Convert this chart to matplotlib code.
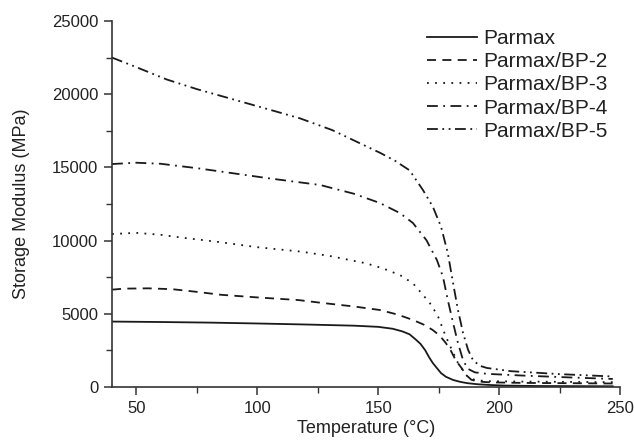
import matplotlib
matplotlib.use('Agg')
import matplotlib.pyplot as plt
from matplotlib.ticker import MultipleLocator

plt.rcParams['font.family'] = ['Liberation Sans', 'DejaVu Sans']

# 數據
t_parmax = [40, 60, 80, 100, 120, 140, 150, 156, 160, 163, 165.5, 167.5, 169.5, 171, 172.6,
            174.5, 176, 178, 181, 184, 187, 191, 196, 202, 215, 247]
e_parmax = [4470, 4440, 4400, 4340, 4270, 4190, 4110, 3980, 3800, 3600, 3250, 2950, 2500, 2050, 1640,
            1250, 950, 700, 480, 350, 260, 190, 140, 100, 70, 50]

t_bp2 = [40, 45, 55, 65, 75, 85, 100, 117, 126, 140, 150.7, 158, 164.4, 169, 172.6, 175.5,
         178, 180, 182, 184.6, 186.5, 188.5, 191, 196, 210, 230, 247]
e_bp2 = [6650, 6720, 6740, 6680, 6500, 6300, 6120, 5940, 5760, 5500, 5260, 4950, 4580, 4250, 3890, 3500,
         3000, 2500, 1850, 1270, 800, 500, 380, 320, 280, 260, 240]

t_bp3 = [40, 50, 60, 70, 83, 100, 118, 130, 145, 152, 159, 164.4, 168.5, 172, 174.8, 178,
         180.5, 183, 185, 187, 190, 195, 210, 230, 247]
e_bp3 = [10450, 10530, 10400, 10180, 9930, 9550, 9250, 8950, 8450, 8100, 7650, 7080, 6300, 5600, 4800, 3440,
         2530, 1640, 1150, 700, 480, 400, 370, 350, 330]

t_bp4 = [40, 50, 60, 75, 90, 105, 126, 140, 150.7, 159, 164.4, 170, 174.3, 176.8, 178.8,
         181, 183, 185.1, 187, 190, 195, 210, 230, 247]
e_bp4 = [15230, 15320, 15250, 14950, 14600, 14250, 13800, 13200, 12570, 11880, 11200, 10020, 8670, 7530, 5940,
         4370, 3000, 1840, 1250, 1000, 900, 780, 650, 550]

t_bp5 = [40, 50, 62.7, 75, 90, 105, 117.7, 131, 145, 151, 157, 163, 168.5, 172.6, 176, 178.8,
         181, 183, 185.1, 187.2, 189.2, 192, 195, 205, 225, 247]
e_bp5 = [22500, 21850, 21000, 20350, 19650, 18950, 18350, 17550, 16450, 15980, 15450, 14800, 13460, 12320, 10950, 9150,
         7080, 5260, 3690, 2530, 1840, 1450, 1300, 1080, 880, 720]

labels = ['Parmax', 'Parmax/BP-2', 'Parmax/BP-3', 'Parmax/BP-4', 'Parmax/BP-5']

fig = plt.figure(figsize=(6.34, 4.42), dpi=100)
ax = fig.add_axes([0.1767, 0.1244, 0.8013, 0.8281])

lw = 1.3
c = '#1a1a1a'
ax.plot(t_parmax, e_parmax, color=c, lw=lw, linestyle='-', label=labels[0])
ax.plot(t_bp2, e_bp2, color=c, lw=lw, linestyle=(0, (5, 3.5)), label=labels[1])
ax.plot(t_bp3, e_bp3, color=c, lw=lw, linestyle=(0, (1, 3.5)), label=labels[2])
ax.plot(t_bp4, e_bp4, color=c, lw=lw, linestyle=(0, (6, 3, 1, 3)), label=labels[3])
ax.plot(t_bp5, e_bp5, color=c, lw=lw, linestyle=(0, (6, 2.5, 1, 2.5, 1, 2.5)), label=labels[4])

ax.set_xlim(40, 250)
ax.set_ylim(0, 25000)
ax.xaxis.set_major_locator(MultipleLocator(50))
ax.xaxis.set_minor_locator(MultipleLocator(25))
ax.yaxis.set_major_locator(MultipleLocator(5000))
ax.yaxis.set_minor_locator(MultipleLocator(2500))

ax.spines['top'].set_visible(False)
ax.spines['right'].set_visible(False)
for s in ['left', 'bottom']:
    ax.spines[s].set_linewidth(1.2)
    ax.spines[s].set_color('#333333')

ax.tick_params(axis='both', which='major', direction='out', length=6, width=1.1,
               labelsize=12, colors='#333333', labelcolor='#222222', pad=4)
ax.tick_params(axis='both', which='minor', direction='out', length=4, width=1.0, colors='#333333')

ax.set_xlabel('Temperature (\u00b0C)', fontsize=13, color='#222222', labelpad=3)
ax.set_ylabel('Storage Modulus (MPa)', fontsize=13, color='#222222', labelpad=16)

leg = ax.legend(loc='upper left', bbox_to_anchor=(0.62, 0.978), frameon=False, fontsize=15,
                handlelength=2.4, handletextpad=0.3, labelspacing=0.2, borderaxespad=0, borderpad=0)
for txt in leg.get_texts():
    txt.set_color('#222222')

plt.savefig('out.png', dpi=100)
plt.close()
